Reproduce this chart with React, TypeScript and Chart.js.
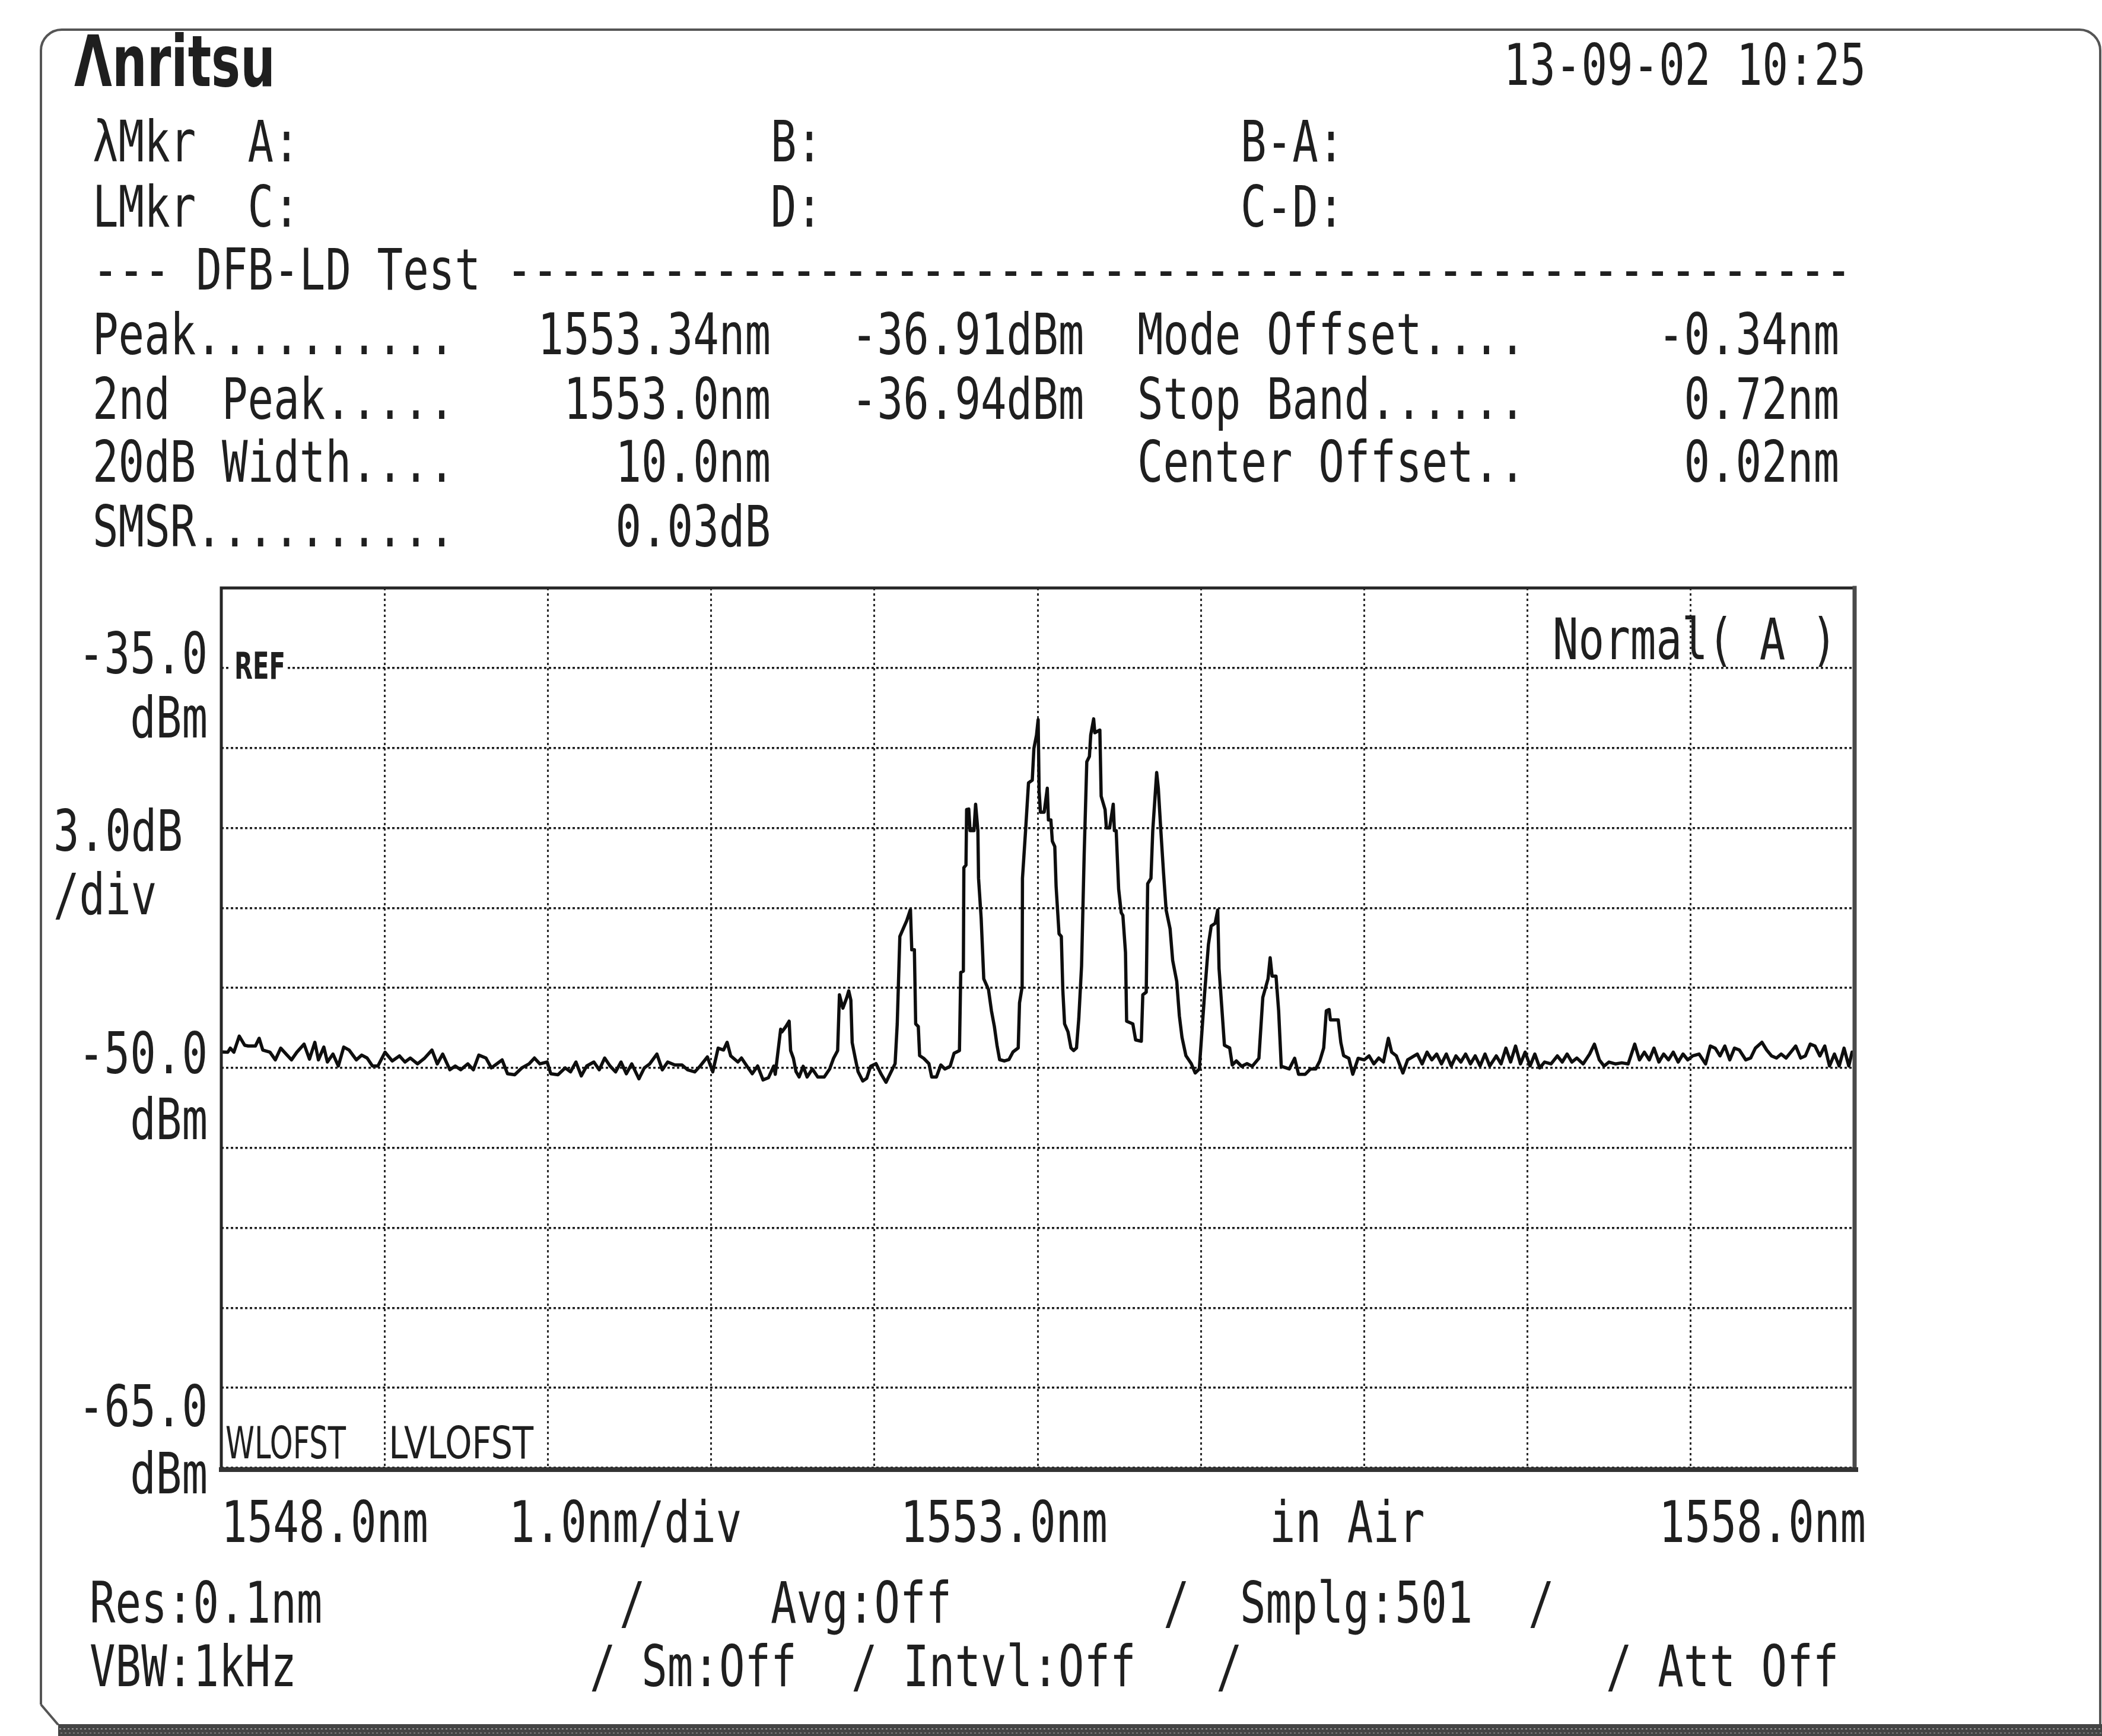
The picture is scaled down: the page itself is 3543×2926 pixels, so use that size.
import React, { useEffect, useRef } from 'react';
import { Chart, registerables } from 'chart.js';

Chart.register(...registerables);

const X_MIN_NM = 1548;
const X_MAX_NM = 1558;
const X_STEP_NM = 1;
const Y_MIN_DBM = -65;
const Y_MAX_DBM = -32;
const Y_STEP_DB = 3;

const leftFloorNm = [
  1548.000, 1548.040, 1548.055, 1548.077, 1548.110, 1548.143, 1548.165, 1548.209, 1548.232, 1548.254,
  1548.298, 1548.331, 1548.364, 1548.397, 1548.430, 1548.463, 1548.507, 1548.540, 1548.573, 1548.595,
  1548.628, 1548.650, 1548.684, 1548.717, 1548.750, 1548.783, 1548.827, 1548.860, 1548.893, 1548.926,
  1548.959, 1549.003, 1549.047, 1549.091, 1549.125, 1549.158, 1549.202, 1549.246, 1549.290, 1549.323,
  1549.356, 1549.400, 1549.433, 1549.466, 1549.510, 1549.544, 1549.577, 1549.621, 1549.654, 1549.687,
  1549.720, 1549.753, 1549.797, 1549.841, 1549.885, 1549.918, 1549.951, 1549.996, 1550.018, 1550.062,
  1550.106, 1550.139, 1550.172, 1550.205, 1550.238, 1550.282, 1550.315, 1550.348, 1550.381, 1550.415,
  1550.448, 1550.481, 1550.514, 1550.558, 1550.591, 1550.624, 1550.668, 1550.701, 1550.734, 1550.778,
  1550.822, 1550.856, 1550.900, 1550.933, 1550.977, 1551.010, 1551.043, 1551.076, 1551.098, 1551.120,
  1551.164, 1551.186, 1551.219, 1551.252, 1551.285, 1551.318, 1551.351, 1551.384,
];
const leftFloorDbm = [
  -49.40, -49.41, -49.26, -49.41, -48.81, -49.15, -49.18, -49.18, -48.89, -49.33,
  -49.41, -49.70, -49.26, -49.48, -49.70, -49.41, -49.11, -49.67, -49.04, -49.70,
  -49.22, -49.78, -49.48, -49.93, -49.22, -49.33, -49.70, -49.52, -49.63, -49.93,
  -49.93, -49.41, -49.74, -49.55, -49.78, -49.63, -49.85, -49.63, -49.33, -49.85,
  -49.48, -50.07, -49.93, -50.07, -49.85, -50.07, -49.52, -49.63, -50.00, -49.85,
  -49.70, -50.22, -50.26, -50.00, -49.85, -49.63, -49.85, -49.78, -50.22, -50.26,
  -50.00, -50.15, -49.78, -50.30, -49.93, -49.78, -50.07, -49.63, -49.93, -50.15,
  -49.78, -50.22, -49.85, -50.41, -50.00, -49.85, -49.48, -50.07, -49.78, -49.89,
  -49.89, -50.07, -50.15, -49.93, -49.59, -50.15, -49.26, -49.33, -49.04, -49.55,
  -49.78, -49.63, -49.93, -50.22, -49.93, -50.45, -50.37, -49.93,
];

const modesNm = [
  1551.393, 1551.426, 1551.434, 1551.458, 1551.478, 1551.487, 1551.504, 1551.520, 1551.539, 1551.564,
  1551.588, 1551.620, 1551.653, 1551.693, 1551.726, 1551.750, 1551.775, 1551.786, 1551.807, 1551.831,
  1551.843, 1551.856, 1551.864, 1551.883, 1551.900, 1551.929, 1551.953, 1551.977, 1552.010, 1552.042,
  1552.071, 1552.099, 1552.127, 1552.140, 1552.156, 1552.180, 1552.198, 1552.221, 1552.229, 1552.245,
  1552.253, 1552.269, 1552.277, 1552.302, 1552.334, 1552.351, 1552.380, 1552.407, 1552.432, 1552.464,
  1552.488, 1552.521, 1552.529, 1552.545, 1552.548, 1552.561, 1552.565, 1552.578, 1552.586, 1552.610,
  1552.620, 1552.634, 1552.638, 1552.654, 1552.670, 1552.699, 1552.717, 1552.735, 1552.751, 1552.767,
  1552.797, 1552.824, 1552.849, 1552.881, 1552.889, 1552.905, 1552.907, 1552.926, 1552.944, 1552.967,
  1552.977, 1552.993, 1553.003, 1553.009, 1553.017, 1553.040, 1553.059, 1553.066, 1553.081, 1553.090,
  1553.105, 1553.113, 1553.131, 1553.145, 1553.154, 1553.165, 1553.186, 1553.204, 1553.220, 1553.238,
  1553.252, 1553.269, 1553.285, 1553.301, 1553.317, 1553.325, 1553.343, 1553.350, 1553.381, 1553.389,
  1553.413, 1553.421, 1553.441, 1553.463, 1553.470, 1553.481, 1553.496, 1553.512, 1553.522, 1553.538,
  1553.545, 1553.583, 1553.600, 1553.635, 1553.644, 1553.665, 1553.674, 1553.694, 1553.705, 1553.729,
  1553.739, 1553.754, 1553.771, 1553.787, 1553.811, 1553.827, 1553.852, 1553.868, 1553.884, 1553.908,
  1553.941, 1553.965, 1553.990, 1554.006, 1554.022, 1554.046, 1554.063, 1554.087, 1554.103, 1554.111,
  1554.127, 1554.144, 1554.176, 1554.192, 1554.217, 1554.249, 1554.282, 1554.314, 1554.355, 1554.379,
  1554.411, 1554.424, 1554.436, 1554.460, 1554.476, 1554.492, 1554.541, 1554.574, 1554.598, 1554.639,
  1554.671, 1554.703, 1554.728, 1554.752, 1554.768, 1554.785, 1554.793, 1554.841, 1554.857, 1554.874,
  1554.906, 1554.930, 1554.963,
];
const modesDbm = [
  -50.24, -48.55, -48.65, -48.45, -48.25, -49.35, -49.64, -50.14, -50.34, -49.94,
  -50.34, -50.04, -50.34, -50.34, -50.04, -49.64, -49.35, -47.26, -47.76, -47.36,
  -47.11, -47.46, -49.05, -49.64, -50.14, -50.49, -50.39, -49.94, -49.84, -50.24,
  -50.54, -50.19, -49.84, -48.35, -45.07, -44.73, -44.48, -44.06, -45.57, -45.57,
  -48.35, -48.45, -49.54, -49.64, -49.84, -50.34, -50.34, -49.89, -50.04, -49.94,
  -49.45, -49.35, -46.42, -46.37, -42.49, -42.39, -40.31, -40.29, -41.10, -41.10,
  -40.11, -41.10, -42.89, -44.38, -46.66, -47.06, -47.86, -48.45, -49.15, -49.69,
  -49.74, -49.69, -49.40, -49.25, -47.56, -46.96, -42.89, -41.10, -39.31, -39.21,
  -38.02, -37.52, -36.94, -39.61, -40.41, -40.41, -39.51, -40.70, -40.70, -41.50,
  -41.70, -43.19, -44.97, -45.07, -47.06, -48.35, -48.65, -49.25, -49.35, -49.25,
  -48.15, -46.17, -41.99, -38.52, -38.32, -37.52, -36.91, -37.43, -37.33, -39.81,
  -40.31, -41.00, -41.00, -40.11, -41.10, -41.10, -43.29, -44.18, -44.28, -45.67,
  -48.25, -48.35, -48.95, -49.00, -47.26, -47.16, -43.09, -42.89, -41.10, -38.92,
  -39.51, -41.05, -42.69, -44.08, -44.78, -45.97, -46.76, -48.05, -48.85, -49.54,
  -49.84, -50.19, -50.04, -48.65, -47.26, -45.37, -44.68, -44.58, -44.08, -46.27,
  -47.66, -49.15, -49.25, -49.89, -49.74, -49.94, -49.84, -49.94, -49.64, -47.36,
  -46.66, -45.87, -46.56, -46.56, -47.86, -49.94, -50.04, -49.64, -50.24, -50.24,
  -50.04, -50.04, -49.74, -49.25, -47.86, -47.81, -48.20, -48.20, -49.05, -49.54,
  -49.64, -50.24, -49.64,
];

const rightFloorNm = [
  1555.000, 1555.030, 1555.059, 1555.089, 1555.118, 1555.148, 1555.168, 1555.197, 1555.237, 1555.266,
  1555.296, 1555.325, 1555.355, 1555.385, 1555.414, 1555.444, 1555.473, 1555.503, 1555.533, 1555.562,
  1555.592, 1555.621, 1555.651, 1555.680, 1555.710, 1555.740, 1555.769, 1555.809, 1555.838, 1555.868,
  1555.897, 1555.927, 1555.957, 1555.986, 1556.016, 1556.045, 1556.075, 1556.105, 1556.144, 1556.183,
  1556.213, 1556.243, 1556.272, 1556.302, 1556.341, 1556.381, 1556.410, 1556.440, 1556.469, 1556.499,
  1556.538, 1556.578, 1556.617, 1556.657, 1556.686, 1556.716, 1556.746, 1556.775, 1556.805, 1556.834,
  1556.864, 1556.893, 1556.923, 1556.953, 1556.982, 1557.012, 1557.051, 1557.091, 1557.120, 1557.150,
  1557.179, 1557.209, 1557.239, 1557.268, 1557.298, 1557.337, 1557.367, 1557.396, 1557.436, 1557.465,
  1557.495, 1557.525, 1557.554, 1557.584, 1557.613, 1557.643, 1557.673, 1557.702, 1557.732, 1557.761,
  1557.791, 1557.821, 1557.850, 1557.880, 1557.909, 1557.939, 1557.968, 1557.988, 1558.000,
];
const rightFloorDbm = [
  -49.70, -49.55, -49.85, -49.63, -49.78, -48.89, -49.41, -49.55, -50.19, -49.70,
  -49.59, -49.48, -49.85, -49.41, -49.70, -49.48, -49.85, -49.48, -49.93, -49.55,
  -49.78, -49.48, -49.85, -49.55, -49.93, -49.48, -49.93, -49.55, -49.85, -49.26,
  -49.78, -49.18, -49.85, -49.41, -49.93, -49.48, -50.00, -49.78, -49.85, -49.55,
  -49.78, -49.48, -49.78, -49.63, -49.85, -49.48, -49.11, -49.70, -49.93, -49.78,
  -49.85, -49.81, -49.85, -49.11, -49.70, -49.41, -49.70, -49.26, -49.78, -49.48,
  -49.70, -49.41, -49.78, -49.48, -49.70, -49.55, -49.48, -49.85, -49.18, -49.26,
  -49.55, -49.18, -49.70, -49.26, -49.33, -49.70, -49.63, -49.26, -49.04, -49.33,
  -49.55, -49.63, -49.48, -49.63, -49.41, -49.18, -49.63, -49.55, -49.11, -49.18,
  -49.55, -49.18, -49.93, -49.48, -49.93, -49.26, -49.93, -49.41, -49.45,
];

// ---------------- layout ----------------
const W = 3543;
const H = 2926;
const PLOT = { left: 373, top: 991, right: 3125, bottom: 2474 };

const MONO = '"DejaVu Sans Mono", "Liberation Mono", monospace';
const SANS = '"DejaVu Sans", "Liberation Sans", sans-serif';
const INK = '#1f1f1f';

type TOpts = {
  size: number;
  adv?: number;
  width?: number;
  family?: string;
  weight?: string;
  align?: CanvasTextAlign;
  color?: string;
};

function txt(ctx: CanvasRenderingContext2D, s: string, x: number, y: number, o: TOpts) {
  ctx.save();
  ctx.font = `${o.weight || 'normal'} ${o.size}px ${o.family || MONO}`;
  ctx.fillStyle = o.color || INK;
  ctx.textBaseline = 'alphabetic';
  ctx.textAlign = o.align || 'left';
  const natural = ctx.measureText(s).width;
  const target = o.width !== undefined ? o.width : o.adv !== undefined ? o.adv * s.length : natural;
  const sx = natural > 0 ? target / natural : 1;
  ctx.translate(x, y);
  ctx.scale(sx, 1);
  ctx.fillText(s, 0, 0);
  ctx.restore();
}

const M: TOpts = { size: 96, adv: 43.6 };

const instrumentPlugin = {
  id: 'instrumentScreen',
  beforeDraw(chart: any) {
    const ctx: CanvasRenderingContext2D = chart.ctx;
    ctx.save();
    ctx.fillStyle = '#ffffff';
    ctx.fillRect(0, 0, W, H);

    // page frame
    ctx.strokeStyle = '#555555';
    ctx.lineWidth = 4;
    ctx.beginPath();
    ctx.moveTo(69, 2873);
    ctx.lineTo(69, 85);
    ctx.arcTo(69, 50, 104, 50, 35);
    ctx.lineTo(3505, 50);
    ctx.arcTo(3540, 50, 3540, 85, 35);
    ctx.lineTo(3540, 2907);
    ctx.moveTo(69, 2873);
    ctx.lineTo(98, 2907);
    ctx.stroke();

    // bottom shadow band
    ctx.fillStyle = '#444444';
    ctx.fillRect(98, 2906, W - 98, 20);
    ctx.setLineDash([3, 4]);
    ctx.strokeStyle = '#9a9a9a';
    ctx.lineWidth = 2;
    ctx.beginPath();
    ctx.moveTo(100, 2914);
    ctx.lineTo(W, 2914);
    ctx.stroke();
    ctx.strokeStyle = '#7a7a7a';
    ctx.beginPath();
    ctx.moveTo(102, 2921);
    ctx.lineTo(W, 2921);
    ctx.stroke();
    ctx.setLineDash([]);
    ctx.restore();

    // header
    txt(ctx, 'Λnritsu', 125, 145, { size: 119, family: SANS, weight: 'bold', width: 339 });
    txt(ctx, '13-09-02 10:25', 3145, 143, { ...M, align: 'right' });

    txt(ctx, 'λMkr  A:', 156, 272, M);
    txt(ctx, 'B:', 1299, 272, M);
    txt(ctx, 'B-A:', 2091, 272, M);
    txt(ctx, 'LMkr  C:', 156, 382, M);
    txt(ctx, 'D:', 1299, 382, M);
    txt(ctx, 'C-D:', 2091, 382, M);

    txt(ctx, '--- DFB-LD Test ----------------------------------------------------', 156, 488, M);

    txt(ctx, 'Peak..........', 156, 597, M);
    txt(ctx, '1553.34nm', 1299, 597, { ...M, align: 'right' });
    txt(ctx, '-36.91dBm', 1435, 597, M);
    txt(ctx, 'Mode Offset....', 1917, 597, M);
    txt(ctx, '-0.34nm', 3100, 597, { ...M, align: 'right' });

    txt(ctx, '2nd  Peak.....', 156, 706, M);
    txt(ctx, '1553.0nm', 1299, 706, { ...M, align: 'right' });
    txt(ctx, '-36.94dBm', 1435, 706, M);
    txt(ctx, 'Stop Band......', 1917, 706, M);
    txt(ctx, '0.72nm', 3100, 706, { ...M, align: 'right' });

    txt(ctx, '20dB Width....', 156, 812, M);
    txt(ctx, '10.0nm', 1299, 812, { ...M, align: 'right' });
    txt(ctx, 'Center Offset..', 1917, 812, M);
    txt(ctx, '0.02nm', 3100, 812, { ...M, align: 'right' });

    txt(ctx, 'SMSR..........', 156, 921, M);
    txt(ctx, '0.03dB', 1299, 921, { ...M, align: 'right' });
  },
  afterDraw(chart: any) {
    const ctx: CanvasRenderingContext2D = chart.ctx;
    const a = chart.chartArea;
    const ys = chart.scales.y;
    const xs = chart.scales.x;

    ctx.save();
    // plot box
    ctx.lineCap = 'square';
    ctx.strokeStyle = '#262626';
    ctx.lineWidth = 5;
    ctx.beginPath();
    ctx.moveTo(a.left, a.bottom);
    ctx.lineTo(a.left, a.top);
    ctx.lineTo(a.right, a.top);
    ctx.stroke();
    ctx.strokeStyle = '#4a4a4a';
    ctx.lineWidth = 7;
    ctx.beginPath();
    ctx.moveTo(a.right + 1, a.top);
    ctx.lineTo(a.right + 1, a.bottom);
    ctx.stroke();
    ctx.strokeStyle = '#333333';
    ctx.lineWidth = 8;
    ctx.beginPath();
    ctx.moveTo(a.left, a.bottom + 3);
    ctx.lineTo(a.right + 3, a.bottom + 3);
    ctx.stroke();

    // REF marker
    const yRef = ys.getPixelForValue(-35);
    ctx.fillStyle = '#ffffff';
    ctx.fillRect(a.left + 16, yRef - 8, 92, 16);
    ctx.restore();
    txt(ctx, 'REF', a.left + 22, yRef + 18, { size: 62, family: SANS, weight: '600', width: 86 });

    txt(ctx, 'Normal( A )', 2617, a.top + 120, M);
    txt(ctx, 'WLOFST', a.left + 7, a.bottom - 16, { size: 74, family: SANS, width: 203 });
    txt(ctx, 'LVLOFST', xs.getPixelForValue(1549) + 7, a.bottom - 16, { size: 74, family: SANS, width: 244 });

    // y-axis annotations
    const yr = a.left - 23;
    txt(ctx, '-35.0', yr, yRef + 9, { ...M, align: 'right' });
    txt(ctx, 'dBm', yr, yRef + 117, { ...M, align: 'right' });
    txt(ctx, '3.0dB', 90, a.top + 443, M);
    txt(ctx, '/div', 90, a.top + 550, M);
    const y50 = ys.getPixelForValue(-50);
    txt(ctx, '-50.0', yr, y50 + 9, { ...M, align: 'right' });
    txt(ctx, 'dBm', yr, y50 + 120, { ...M, align: 'right' });
    const y65 = ys.getPixelForValue(-65);
    txt(ctx, '-65.0', yr, y65 - 70, { ...M, align: 'right' });
    txt(ctx, 'dBm', yr, y65 + 43, { ...M, align: 'right' });

    // x-axis annotations
    const xb = a.bottom + 125;
    txt(ctx, '1548.0nm', xs.getPixelForValue(1548), xb, M);
    txt(ctx, '1.0nm/div', 858, xb, M);
    txt(ctx, '1553.0nm', 1518, xb, M);
    txt(ctx, 'in Air', 2140, xb, M);
    txt(ctx, '1558.0nm', xs.getPixelForValue(1558) + 20, xb, { ...M, align: 'right' });

    // bottom status lines
    txt(ctx, 'Res:0.1nm', 151, 2735, M);
    txt(ctx, '/', 1044, 2735, M);
    txt(ctx, 'Avg:Off', 1299, 2735, M);
    txt(ctx, '/', 1961, 2735, M);
    txt(ctx, 'Smplg:501', 2090, 2735, M);
    txt(ctx, '/', 2576, 2735, M);

    txt(ctx, 'VBW:1kHz', 151, 2842, M);
    txt(ctx, '/ Sm:Off', 994, 2842, M);
    txt(ctx, '/ Intvl:Off', 1435, 2842, M);
    txt(ctx, '/', 2050, 2842, M);
    txt(ctx, '/ Att Off', 2707, 2842, M);
  },
};

export default function App() {
  const ref = useRef<HTMLCanvasElement | null>(null);

  useEffect(() => {
    document.body.style.margin = '0';
    document.body.style.overflow = 'hidden';
    const canvas = ref.current;
    if (!canvas) return;

    const segNm = [leftFloorNm, modesNm, rightFloorNm];
    const segDb = [leftFloorDbm, modesDbm, rightFloorDbm];
    const points: { x: number; y: number }[] = [];
    segNm.forEach((arr, s) => arr.forEach((nm, i) => points.push({ x: nm, y: segDb[s][i] })));

    const gridY = { color: '#1e1e1e', lineWidth: 3.5, drawTicks: false };
    const gridX = { color: '#2a2a2a', lineWidth: 3, drawTicks: false };

    const chart = new Chart(canvas, {
      type: 'line',
      data: {
        datasets: [
          {
            label: 'Trace A',
            data: points,
            borderColor: '#0e0e0e',
            borderWidth: 5.5,
            pointRadius: 0,
            tension: 0,
            fill: false,
            borderJoinStyle: 'round',
          } as any,
        ],
      },
      options: {
        animation: false,
        responsive: false,
        devicePixelRatio: 1,
        events: [],
        layout: {
          padding: {
            left: PLOT.left,
            top: PLOT.top,
            right: W - PLOT.right,
            bottom: H - PLOT.bottom,
          },
        },
        plugins: { legend: { display: false }, tooltip: { enabled: false }, title: { display: false } },
        scales: {
          x: {
            type: 'linear',
            min: X_MIN_NM,
            max: X_MAX_NM,
            ticks: { display: false, stepSize: X_STEP_NM },
            grid: gridX,
            border: { display: false, dash: [4, 5] },
          },
          y: {
            type: 'linear',
            min: Y_MIN_DBM,
            max: Y_MAX_DBM,
            ticks: { display: false, stepSize: Y_STEP_DB },
            grid: gridY,
            border: { display: false, dash: [4, 4] },
          },
        },
      } as any,
      plugins: [instrumentPlugin],
    });

    return () => chart.destroy();
  }, []);

  return (
    <div style={{ position: 'absolute', left: 0, top: 0, width: W, height: H }}>
      <canvas ref={ref} width={W} height={H} style={{ width: W, height: H, display: 'block' }} />
    </div>
  );
}
